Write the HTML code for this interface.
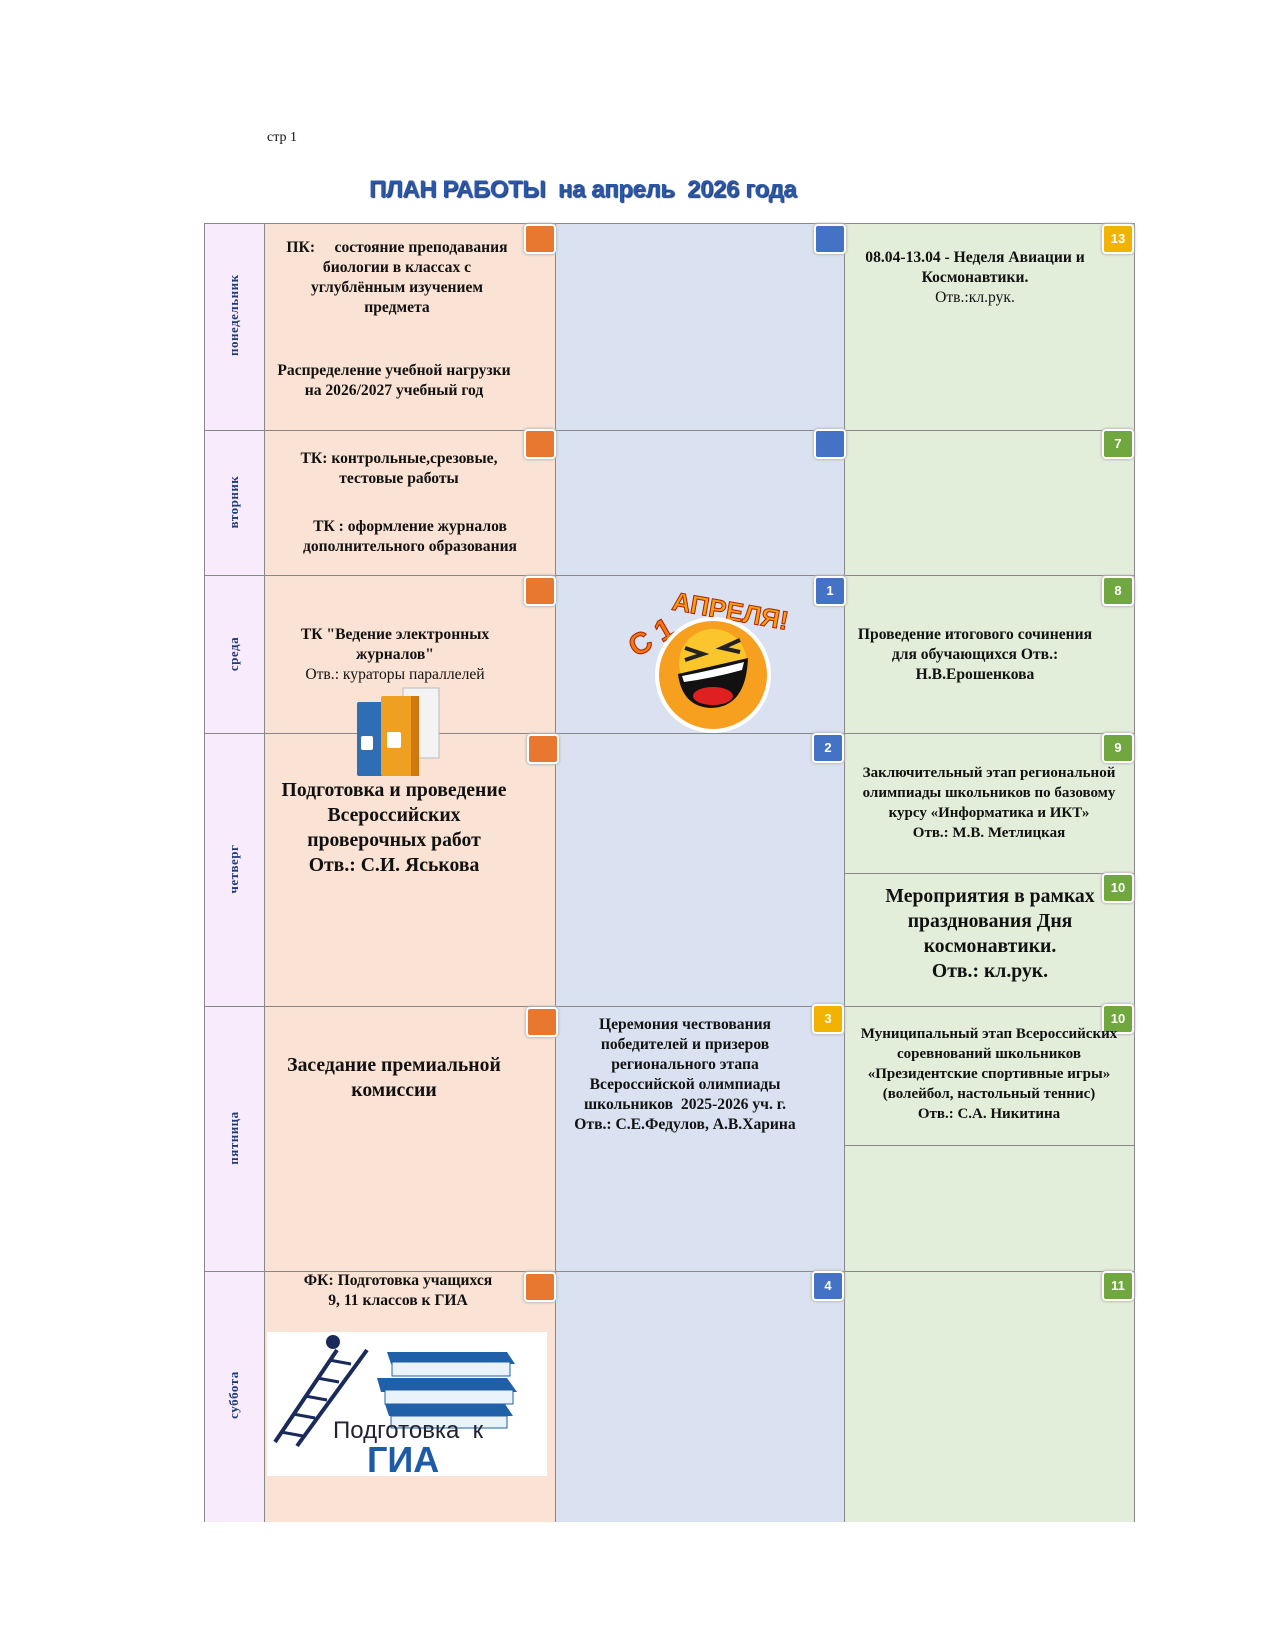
<!DOCTYPE html>
<html><head><meta charset="utf-8"><style>
body{margin:0;width:1275px;height:1650px;background:#fff;position:relative;overflow:hidden;font-family:"Liberation Serif","DejaVu Serif",serif;color:#111}
.a{position:absolute}
.c{position:absolute;text-align:center;font-weight:bold;font-size:15.6px;line-height:20px}
.big{font-size:19.7px;line-height:25px}
.n{font-weight:normal}
.hl{position:absolute;height:1px;background:#888}
.vl{position:absolute;width:1px;background:#888}
.b{position:absolute;width:28px;height:26px;border:2px solid #fff;border-radius:4px;box-shadow:0 0 2px 1px #bbb;color:#fff;font:bold 13px "Liberation Sans",sans-serif;text-align:center;line-height:26px}
.o{background:#e8782f}.bl{background:#4472c4}.g{background:#70a83f}.y{background:#f2b200}
.day{position:absolute;left:204px;width:60px;height:20px;color:#1f3a7a;font-weight:bold;font-size:13px;text-align:center;transform:rotate(-90deg);line-height:20px;letter-spacing:0.5px}
</style></head><body>
<div class="a" style="left:267px;top:130px;font-size:14px">стр 1</div>
<div class="a" style="left:369px;top:176px;font:bold 24px 'Liberation Sans',sans-serif;color:#2a58a8;text-shadow:1px 1px 1px #1a2f60;letter-spacing:-0.4px">ПЛАН РАБОТЫ&nbsp; на апрель&nbsp; 2026 года</div>

<div class="a" style="left:204px;top:223px;width:60px;height:1299px;background:#f8ecfc"></div>
<div class="a" style="left:264px;top:223px;width:291px;height:1299px;background:#fae2d4"></div>
<div class="a" style="left:555px;top:223px;width:289px;height:1299px;background:#dae2f1"></div>
<div class="a" style="left:844px;top:223px;width:290px;height:1299px;background:#e3eeda"></div>

<div class="vl" style="left:204px;top:223px;height:1299px"></div>
<div class="vl" style="left:264px;top:223px;height:1299px"></div>
<div class="vl" style="left:555px;top:223px;height:1299px"></div>
<div class="vl" style="left:844px;top:223px;height:1299px"></div>
<div class="vl" style="left:1134px;top:223px;height:1299px"></div>
<div class="hl" style="left:204px;top:223px;width:930px"></div>
<div class="hl" style="left:204px;top:430px;width:930px"></div>
<div class="hl" style="left:204px;top:575px;width:930px"></div>
<div class="hl" style="left:204px;top:733px;width:930px"></div>
<div class="hl" style="left:204px;top:1006px;width:930px"></div>
<div class="hl" style="left:204px;top:1271px;width:930px"></div>
<div class="hl" style="left:844px;top:873px;width:290px"></div>
<div class="hl" style="left:844px;top:1145px;width:290px"></div>

<div class="day" style="top:316px">понедельник</div>
<div class="day" style="top:492px">вторник</div>
<div class="day" style="top:644px">среда</div>
<div class="day" style="top:859px">четверг</div>
<div class="day" style="top:1128px">пятница</div>
<div class="day" style="top:1385px">суббота</div>

<div class="b o" style="left:524px;top:224px"></div><div class="b bl" style="left:814px;top:224px"></div><div class="b y" style="left:1102px;top:224px">13</div>
<div class="b o" style="left:524px;top:429px"></div><div class="b bl" style="left:814px;top:429px"></div><div class="b g" style="left:1102px;top:429px">7</div>
<div class="b o" style="left:524px;top:576px"></div><div class="b bl" style="left:814px;top:576px">1</div><div class="b g" style="left:1102px;top:576px">8</div>
<div class="b o" style="left:527px;top:734px"></div><div class="b bl" style="left:812px;top:733px">2</div><div class="b g" style="left:1102px;top:733px">9</div>
<div class="b g" style="left:1102px;top:873px">10</div>
<div class="b o" style="left:526px;top:1007px"></div><div class="b y" style="left:812px;top:1004px">3</div><div class="b g" style="left:1102px;top:1004px">10</div>
<div class="b o" style="left:524px;top:1272px"></div><div class="b bl" style="left:812px;top:1271px">4</div><div class="b g" style="left:1102px;top:1271px">11</div>

<div class="c" style="left:262px;width:270px;top:238px">ПК:&nbsp;&nbsp;&nbsp;&nbsp; состояние преподавания<br>биологии в классах с<br>углублённым изучением<br>предмета</div>
<div class="c" style="left:258px;width:272px;top:361px">Распределение учебной нагрузки<br>на 2026/2027 учебный год</div>
<div class="c" style="left:840px;width:270px;top:248px">08.04-13.04 - Неделя Авиации и<br>Космонавтики.<br><span class="n">Отв.:кл.рук.</span></div>
<div class="c" style="left:264px;width:270px;top:449px">ТК: контрольные,срезовые,<br>тестовые работы</div>
<div class="c" style="left:274px;width:272px;top:517px">ТК : оформление журналов<br>дополнительного образования</div>
<div class="c" style="left:260px;width:270px;top:625px">ТК "Ведение электронных<br>журналов"<br><span class="n">Отв.: кураторы параллелей</span></div>
<div class="c" style="left:840px;width:270px;top:625px">Проведение итогового сочинения<br>для обучающихся Отв.:<br>Н.В.Ерошенкова</div>
<div class="c big" style="left:259px;width:270px;top:778px">Подготовка и проведение<br>Всероссийских<br>проверочных работ<br>Отв.: С.И. Яськова</div>
<div class="c" style="left:844px;width:290px;top:763px;font-size:15px">Заключительный этап региональной<br>олимпиады школьников по базовому<br>курсу «Информатика и ИКТ»<br>Отв.: М.В. Метлицкая</div>
<div class="c big" style="left:855px;width:270px;top:884px">Мероприятия в рамках<br>празднования Дня<br>космонавтики.<br>Отв.: кл.рук.</div>
<div class="c big" style="left:259px;width:270px;top:1053px">Заседание премиальной<br>комиссии</div>
<div class="c" style="left:550px;width:270px;top:1015px">Церемония чествования<br>победителей и призеров<br>регионального этапа<br>Всероссийской олимпиады<br>школьников&nbsp; 2025-2026 уч. г.<br>Отв.: С.Е.Федулов, А.В.Харина</div>
<div class="c" style="left:844px;width:290px;top:1024px;font-size:15px">Муниципальный этап Всероссийских<br>соревнований школьников<br>«Президентские спортивные игры»<br>(волейбол, настольный теннис)<br>Отв.: С.А. Никитина</div>
<div class="c" style="left:263px;width:270px;top:1271px">ФК: Подготовка учащихся<br>9, 11 классов к ГИА</div>

<svg class="a" style="left:355px;top:686px" width="90" height="92" viewBox="0 0 90 92">
<rect x="48" y="2" width="36" height="70" fill="#f3f3f3" stroke="#bbb"/>
<rect x="2" y="16" width="26" height="74" fill="#2f6db5" rx="2"/>
<rect x="6" y="50" width="12" height="14" fill="#fff" rx="2"/>
<rect x="26" y="10" width="32" height="80" fill="#f0a020" rx="2"/>
<rect x="32" y="46" width="14" height="16" fill="#fff" rx="2"/>
<rect x="56" y="10" width="8" height="80" fill="#d07810"/>
</svg>

<svg class="a" style="left:610px;top:578px" width="180" height="155" viewBox="0 0 180 155">
<text x="18" y="70" font-family="Liberation Sans" font-weight="bold" font-size="30" fill="#f07a10" stroke="#b02000" stroke-width="1" transform="rotate(-30 40 60)">С 1</text>
<text x="62" y="40" font-family="Liberation Sans" font-weight="bold" font-size="26" fill="#f5a010" stroke="#b02000" stroke-width="1" transform="rotate(10 110 30)">АПРЕЛЯ!</text>
<circle cx="103" cy="97" r="58" fill="#fff"/>
<circle cx="103" cy="97" r="54" fill="#f7a020"/>
<circle cx="103" cy="85" r="34" fill="#fbd030" opacity=".8"/>
<path d="M68 96 Q103 88 138 80 Q136 130 100 130 Q72 128 68 96Z" fill="#111"/>
<path d="M72 98 Q103 92 134 84 L132 92 Q103 100 74 104Z" fill="#fff"/>
<ellipse cx="103" cy="118" rx="20" ry="9" fill="#e02020"/>
<path d="M75 70 l18 6 -18 6 M130 62 l-18 8 18 4" stroke="#222" stroke-width="4" fill="none"/>
</svg>

<div class="a" style="left:267px;top:1332px;width:280px;height:144px;background:#fff"></div>
<svg class="a" style="left:267px;top:1332px" width="280" height="144" viewBox="0 0 280 144">
<g fill="#2060a8">
<path d="M120 20 h120 l8 12 h-124z"/><path d="M110 46 h130 l10 14 h-136z"/><path d="M118 72 h120 l8 12 h-124z"/>
</g>
<path d="M125 30 h118 v14 h-118z M118 58 h128 v14 h-128z M124 84 h116 v12 h-116z" fill="#eaf2fa" stroke="#2060a8"/>
<g stroke="#1a2a5a" stroke-width="4"><line x1="8" y1="110" x2="70" y2="18"/><line x1="30" y1="114" x2="100" y2="18"/></g>
<g stroke="#1a2a5a" stroke-width="3"><line x1="14" y1="100" x2="36" y2="104"/><line x1="26" y1="82" x2="48" y2="86"/><line x1="38" y1="64" x2="60" y2="68"/><line x1="50" y1="46" x2="72" y2="50"/><line x1="62" y1="28" x2="84" y2="32"/></g>
<circle cx="66" cy="10" r="7" fill="#1a2a5a"/>
<text x="66" y="106" font-family="Liberation Sans" font-size="24" fill="#223">Подготовка&nbsp; к</text>
<text x="100" y="140" font-family="Liberation Sans" font-weight="bold" font-size="36" fill="#1d5aa8">ГИА</text>
</svg>
</body></html>
